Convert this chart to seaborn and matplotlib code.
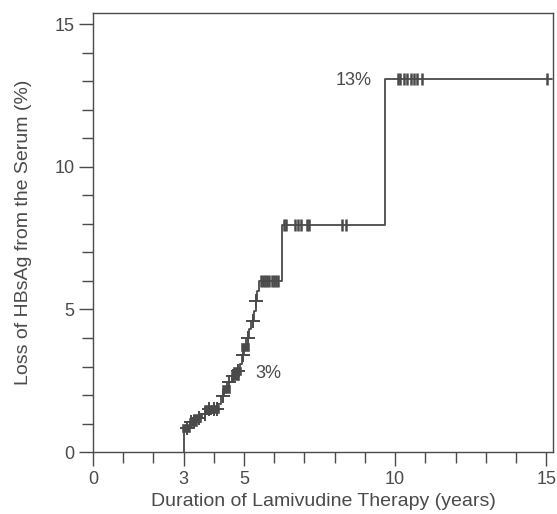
import matplotlib
matplotlib.use('Agg')
import matplotlib.pyplot as plt
from matplotlib.ticker import MultipleLocator, FixedLocator
import seaborn as sns
import numpy as np
import pandas as pd

# Cumulative loss of HBsAg (%) – step function (time in years, value after step)
step_years = [3.0, 3.0, 3.2, 3.4, 3.6, 3.75, 4.15, 4.25, 4.35, 4.45, 4.6, 4.75, 4.85,
              4.92, 5.0, 5.08, 5.16, 5.24, 5.32, 5.38, 5.44, 5.5, 6.27, 9.67, 15.2]
step_loss = [0.0, 0.85, 1.05, 1.2, 1.35, 1.5, 1.7, 1.95, 2.2, 2.45, 2.65, 2.85, 3.1,
             3.4, 3.7, 4.0, 4.3, 4.6, 4.95, 5.3, 5.65, 6.0, 7.98, 13.1, 13.1]

# censored observations
cross_years = [3.1, 3.25, 3.35, 3.5, 3.7, 3.85, 4.0, 4.1, 4.3, 4.5, 4.65, 4.8,
               4.95, 5.12, 5.28, 5.4]
square_years = [3.08, 3.3, 3.45, 3.8, 4.05, 4.4, 4.7, 4.78, 5.02]
tick_years = [5.55, 5.62, 5.7, 5.77, 5.84, 5.91, 5.98, 6.05, 6.12,
              6.33, 6.38, 6.68, 6.78, 6.88, 7.08, 7.14, 8.25, 8.38,
              10.08, 10.15, 10.3, 10.4, 10.52, 10.62, 10.72, 10.9, 15.03]

labels = {"3%": (5.8, 2.77), "13%": (8.62, 13.05)}

curve = pd.DataFrame({"years": step_years, "loss": step_loss})


def loss_at(t):
    idx = np.searchsorted(step_years, t, side="right") - 1
    return [step_loss[i] for i in idx]


sns.set_theme(style="ticks")
plt.rcParams['font.family'] = ['Liberation Sans', 'DejaVu Sans']
ink = "#4a4a4a"

fig = plt.figure(figsize=(5.57, 5.14), dpi=100)
ax = fig.add_axes([0.167, 0.1206, 0.826, 0.854])

sns.lineplot(data=curve, x="years", y="loss", drawstyle="steps-post",
             estimator=None, sort=False, color=ink, linewidth=1.3, ax=ax)
sns.scatterplot(x=cross_years, y=loss_at(cross_years), marker="+", s=90,
                color=ink, linewidth=1.4, ax=ax, zorder=3)
sns.scatterplot(x=square_years, y=loss_at(square_years), marker="s", s=28,
                color=ink, edgecolor=ink, ax=ax, zorder=3)
sns.scatterplot(x=tick_years, y=loss_at(tick_years), marker="|", s=70,
                color=ink, linewidth=1.8, ax=ax, zorder=3)

for txt, (x, y) in labels.items():
    ax.text(x, y, txt, fontsize=13, color=ink, ha="center", va="center",
            bbox=dict(facecolor="white", edgecolor="none", pad=1))

ax.set_xlim(0, 15.23)
ax.set_ylim(0, 15.4)
ax.xaxis.set_major_locator(FixedLocator([0, 3, 5, 10, 15]))
ax.xaxis.set_minor_locator(MultipleLocator(1))
ax.yaxis.set_major_locator(FixedLocator([0, 5, 10, 15]))
ax.yaxis.set_minor_locator(MultipleLocator(1))
ax.tick_params(which="major", length=10, width=1, color=ink, labelsize=13,
               labelcolor=ink, direction="out")
ax.tick_params(which="minor", length=8, width=1, color=ink, direction="out")

for side in ax.spines.values():
    side.set_color(ink)
    side.set_linewidth(1)

ax.set_xlabel("Duration of Lamivudine Therapy (years)", fontsize=14, color=ink, labelpad=4)
ax.set_ylabel("Loss of HBsAg from the Serum (%)", fontsize=14, color=ink, labelpad=16)

plt.savefig("out.png", dpi=100)
plt.close('all')
